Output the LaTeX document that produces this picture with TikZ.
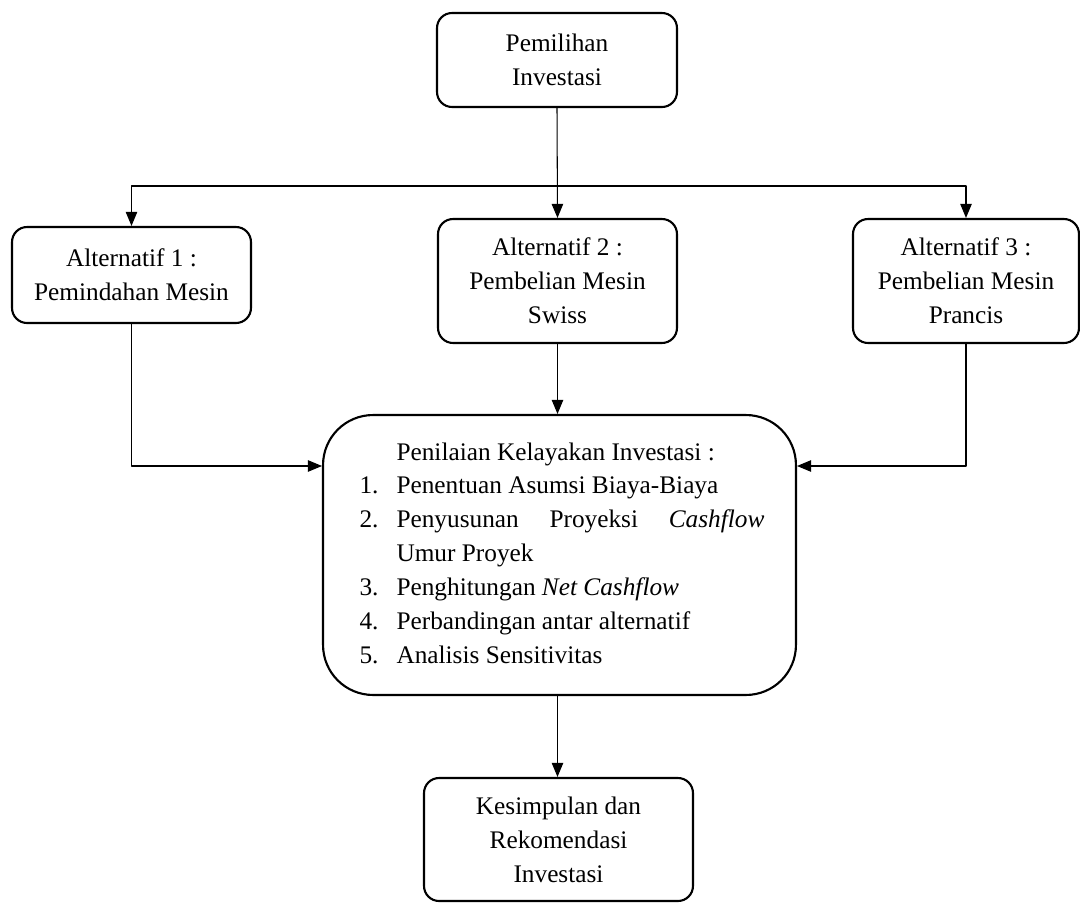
\documentclass[tikz,border=0pt]{standalone}
\usepackage{fontspec}
\setmainfont{Liberation Serif}
\usetikzlibrary{arrows.meta}
\tikzset{
  kotak/.style={draw,line width=1.2pt,rounded corners=0.3cm,align=center,inner sep=0pt,
    font=\fontsize{14.4}{19.3}\selectfont},
  panah/.style={->,line width=0.6pt},
}
\newcommand{\nomor}[1]{\makebox[0.74cm][l]{#1}}
\begin{document}
\begin{tikzpicture}[>={Triangle[length=8pt,width=6.5pt]},line join=round,x=0.02cm,y=-0.02cm]
\useasboundingbox (0,0) rectangle (1080,903);
\node[kotak,minimum width=4.8cm,minimum height=1.88cm] (pilih) at (557,60) {Pemilihan\\Investasi};
\node[kotak,minimum width=4.78cm,minimum height=1.92cm] (alt1) at (131.5,275) {Alternatif 1 :\\Pemindahan Mesin};
\node[kotak,minimum width=4.78cm,minimum height=2.48cm] (alt2) at (557.5,281) {Alternatif 2 :\\Pembelian Mesin\\Swiss};
\node[kotak,minimum width=4.52cm,minimum height=2.48cm] (alt3) at (966,281) {Alternatif 3 :\\Pembelian Mesin\\Prancis};
\node[kotak,rounded corners=1cm,minimum width=9.46cm,minimum height=5.6cm] (nilai) at (559.5,555) {%
  \hspace{0.1cm}\begin{tabular}{@{}l@{}l@{}}
  \nomor{} & Penilaian Kelayakan Investasi :\\
  \nomor{1.} & Penentuan Asumsi Biaya-Biaya\\
  \nomor{2.} & \makebox[7.36cm][s]{Penyusunan Proyeksi \textit{Cashflow}}\\
  \nomor{} & Umur Proyek\\
  \nomor{3.} & Penghitungan \textit{Net Cashflow}\\
  \nomor{4.} & Perbandingan antar alternatif\\
  \nomor{5.} & Analisis Sensitivitas
  \end{tabular}};
\node[kotak,minimum width=5.38cm,minimum height=2.46cm] (simpul) at (558.5,839.5) {Kesimpulan dan\\Rekomendasi\\Investasi};
% cabang
\coordinate (cabang) at (557,186);
\draw[panah] (pilih.south) -- (alt2.north);
\draw[panah] (cabang) -| (alt1.north);
\draw[panah] (cabang) -| (alt3.north);
% ke penilaian
\draw[panah] (alt1.south) |- (nilai.west |- 0,466);
\draw[panah] (alt3.south) |- (nilai.east |- 0,466);
\draw[panah] (alt2.south) -- (nilai.north -| alt2.south);
\draw[panah] (nilai.south -| alt2.south) -- (simpul.north -| alt2.south);
\end{tikzpicture}
\end{document}
